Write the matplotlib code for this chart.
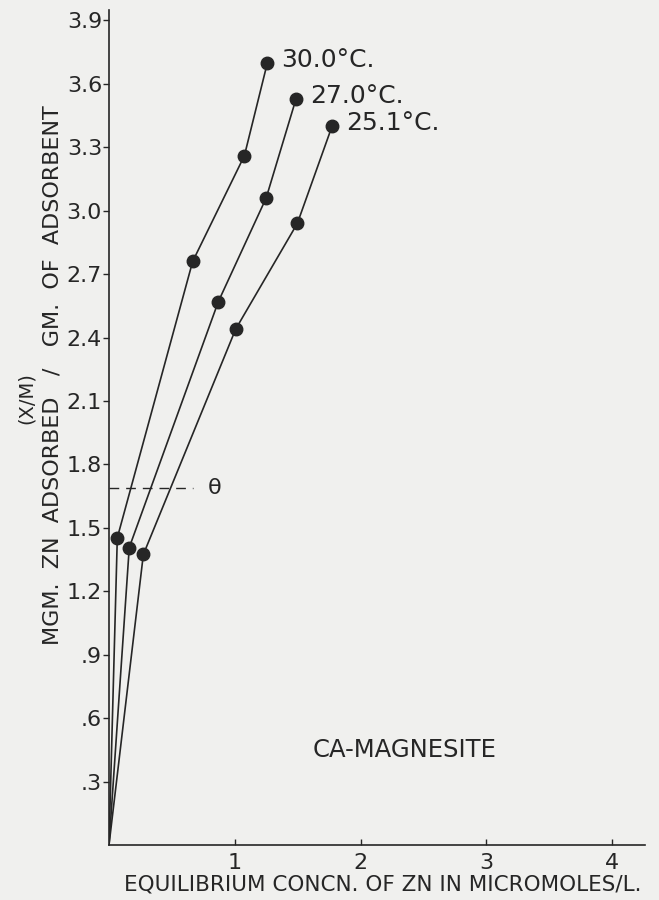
import numpy as np
import matplotlib.pyplot as plt

# Data
conc_30 = [0, 0.066, 0.665, 1.076, 1.259]
ads_30 = [0, 1.453, 2.76, 3.26, 3.70]
conc_27 = [0, 0.161, 0.869, 1.249, 1.487]
ads_27 = [0, 1.407, 2.57, 3.06, 3.53]
conc_25 = [0, 0.273, 1.007, 1.497, 1.773]
ads_25 = [0, 1.374, 2.44, 2.94, 3.40]
series_labels = ["30.0°C.", "27.0°C.", "25.1°C."]

theta_level = 1.69
theta_end = 0.67

x_ticks = [1, 2, 3, 4]
x_ticklabels = ["1", "2", "3", "4"]
y_ticks = [0.3, 0.6, 0.9, 1.2, 1.5, 1.8, 2.1, 2.4, 2.7, 3.0, 3.3, 3.6, 3.9]
y_ticklabels = [".3", ".6", ".9", "1.2", "1.5", "1.8", "2.1", "2.4", "2.7", "3.0", "3.3", "3.6", "3.9"]

ink = '#262626'
paper = '#f0f0ee'
plt.rcParams['font.family'] = ['DejaVu Sans']

fig = plt.figure(figsize=(6.59, 9), dpi=100, facecolor=paper)
ax = fig.add_axes([0.1654, 0.0611, 0.8134, 0.928], facecolor=paper)

# Isotherms
for xs, ys, lab in zip([conc_30, conc_27, conc_25], [ads_30, ads_27, ads_25], series_labels):
    ax.plot(xs, ys, color=ink, lw=1.2)
    ax.plot(xs[1:], ys[1:], 'o', color=ink, markersize=9)
    ax.annotate(lab, (xs[-1], ys[-1]), xytext=(10, 2), textcoords='offset points',
                ha='left', va='center', fontsize=18, color=ink)

# monolayer line
ax.plot([0, theta_end], [theta_level, theta_level], color=ink, lw=1.0, dashes=(7, 5))
ax.text(0.843, theta_level, "θ", ha='center', va='center', fontsize=16, color=ink)

ax.text(1.62, 0.45, "CA-MAGNESITE", ha='left', va='center', fontsize=17.5, color=ink)

ax.set_xlim(0, 4.26)
ax.set_ylim(0, 3.95)
ax.set_xticks(x_ticks)
ax.set_xticklabels(x_ticklabels)
ax.set_yticks(y_ticks)
ax.set_yticklabels(y_ticklabels)
ax.tick_params(axis='x', direction='in', length=4, width=1, pad=6, labelsize=16, colors=ink)
ax.tick_params(axis='y', direction='out', length=4, width=1, pad=1, labelsize=16, colors=ink)

for side in ['top', 'right']:
    ax.spines[side].set_visible(False)
for side in ['left', 'bottom']:
    ax.spines[side].set_linewidth(1.2)
    ax.spines[side].set_color(ink)

fig.text(0.5804, 0.0167, "EQUILIBRIUM CONCN. OF ZN IN MICROMOLES/L.", ha='center', va='center',
         fontsize=15.5, color=ink)
fig.text(0.080, 0.583, "MGM.  ZN  ADSORBED   /   GM.  OF  ADSORBENT", rotation=90,
         ha='center', va='center', fontsize=16, color=ink)
fig.text(0.040, 0.558, "(X/M)", rotation=90, ha='center', va='center', fontsize=14, color=ink)

fig.savefig("out.png", dpi=100, facecolor=paper)
